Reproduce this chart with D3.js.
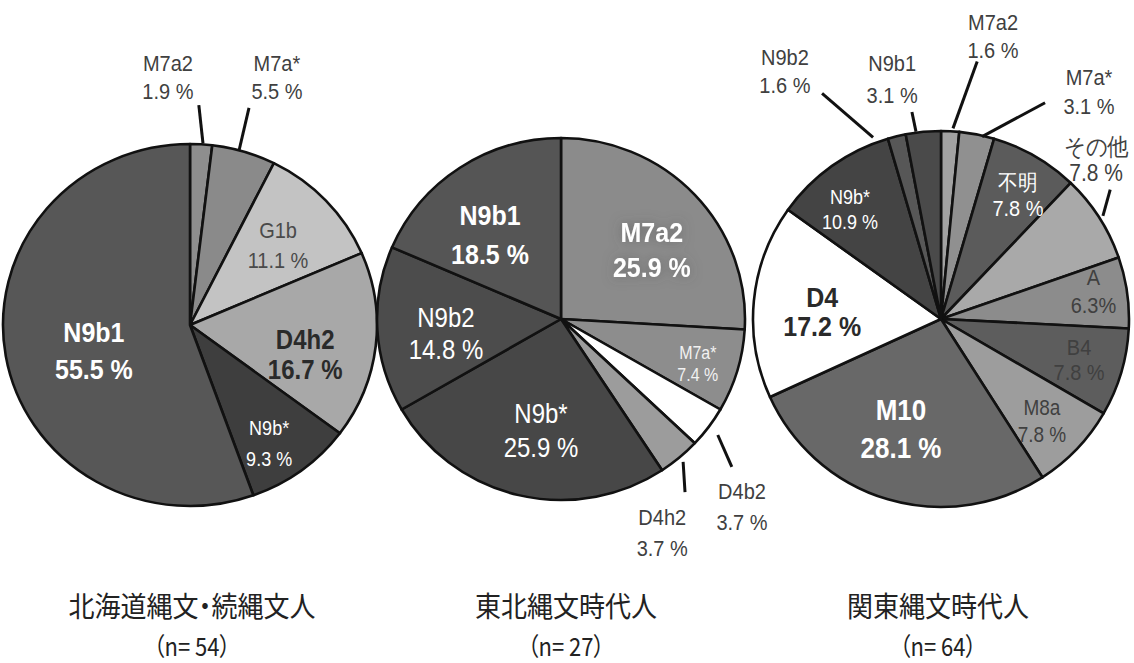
<!DOCTYPE html>
<html>
<head>
<meta charset="utf-8">
<script src="https://cdn.jsdelivr.net/npm/d3@7"></script>
<style>
  html, body { margin: 0; padding: 0; background: #fff; }
  svg { display: block; }
  text { font-family: "Liberation Sans", Arial, sans-serif; }
  .title { font-family: "Noto Sans CJK JP", "Noto Sans CJK SC", sans-serif; font-feature-settings: "palt"; }
</style>
</head>
<body>
<svg id="chart" width="1134" height="663"></svg>
<script>
// Haplogroup shares (%) for each group, listed clockwise from 12 o'clock
const hokkaidoLabels = ["M7a2", "M7a*", "G1b", "D4h2", "N9b*", "N9b1"];
const hokkaidoValues = [1.9, 5.5, 11.1, 16.7, 9.3, 55.5];

const tohokuLabels = ["M7a2", "M7a*", "D4b2", "D4h2", "N9b*", "N9b2", "N9b1"];
const tohokuValues = [25.9, 7.4, 3.7, 3.7, 25.9, 14.8, 18.5];

const kantoLabels = ["M7a2", "M7a*", "不明", "その他", "A", "B4", "M8a", "M10", "D4", "N9b*", "N9b2", "N9b1"];
const kantoValues = [1.6, 3.1, 7.8, 7.8, 6.3, 7.8, 7.8, 28.1, 17.2, 10.9, 1.6, 3.1];

const groupTitles = ["北海道縄文・続縄文人", "東北縄文時代人", "関東縄文時代人"];
const sampleSizes = [54, 27, 64];

// ---- drawing styles and label placement (angles in degrees from 12 o'clock) ----
const W = "#fff", DK = "#2a2a2a", MID = "#404040";
const pieStyles = [
  {
    cx: 190, cy: 325, rx: 187, ry: 181, titleX: 192,
    colors: ["#8e8e8e", "#8a8a8a", "#c3c3c3", "#a8a8a8", "#3e3e3e", "#575757"],
    labels: [
      { a: -5.1, r: 249, size: 20, fill: MID, gap: 28, leader: [4.1, 182, 2.3, 220] },
      { a: 19.3, r: 263, size: 20, fill: MID, gap: 28, leader: [15.7, 181, 15.2, 225] },
      { a: 47.7, r: 119, size: 20, fill: "#4a4a4a", gap: 30 },
      { a: 104.6, r: 119, size: 24, bold: true, fill: DK, gap: 30 },
      { a: 146.4, r: 143, size: 18, fill: W, gap: 31 },
      { a: 255, r: 99.5, size: 25, bold: true, fill: W, gap: 37 }
    ]
  },
  {
    cx: 561, cy: 319, rx: 184, ry: 181, titleX: 566,
    colors: ["#8b8b8b", "#8d8d8d", "#ffffff", "#9c9c9c", "#474747", "#4c4c4c", "#555555"],
    labels: [
      { a: 52.8, r: 114, size: 25, bold: true, fill: W, gap: 35, halo: true },
      { a: 108.2, r: 144, size: 16, fill: "#f2f2f2", gap: 22 },
      { a: 136.1, r: 261, size: 20, fill: MID, gap: 31, leader: [126.5, 195, 130.9, 226] },
      { a: 154.6, r: 236, size: 20, fill: MID, gap: 31, leader: [139.5, 188, 144.4, 213] },
      { a: 190.2, r: 113, size: 24, fill: W, gap: 34 },
      { a: 262.6, r: 116, size: 24, fill: W, gap: 32 },
      { a: 319.8, r: 110, size: 25, bold: true, fill: W, gap: 39 }
    ]
  },
  {
    cx: 941, cy: 319, rx: 188, ry: 188, titleX: 938,
    colors: ["#a2a2a2", "#909090", "#5b5b5b", "#a9a9a9", "#8c8c8c", "#5d5d5d",
             "#9d9d9d", "#686868", "#ffffff", "#444444", "#575757", "#4a4a4a"],
    labels: [
      { a: 10.4, r: 288, size: 20, fill: MID, gap: 28, leader: [3.6, 191, 8.0, 260] },
      { a: 33.1, r: 271, size: 20, fill: MID, gap: 29, leader: [12.7, 187, 25.7, 240] },
      { a: 31.8, r: 146, size: 20, fill: W, gap: 26 },
      { a: 44.3, r: 222, size: 21, fill: MID, gap: 26, leader: [57.5, 192, 52.6, 213] },
      { a: 79.6, r: 155, size: 20, fill: MID, gap: 28, tight: true },
      { a: 106.5, r: 144, size: 20, fill: MID, gap: 25 },
      { a: 135.3, r: 143.5, size: 19, fill: MID, gap: 27 },
      { a: 200, r: 117, size: 26, bold: true, fill: W, gap: 38 },
      { a: 273.4, r: 119, size: 25, bold: true, fill: DK, gap: 29 },
      { a: 320.1, r: 142, size: 18, fill: W, gap: 25 },
      { a: 327.8, r: 293, size: 20, fill: MID, gap: 28, leader: [339.5, 194, 332.2, 255] },
      { a: 348.5, r: 245, size: 20, fill: MID, gap: 32, leader: [352.4, 189, 352.0, 209] }
    ]
  }
];

const groups = [
  { names: hokkaidoLabels, values: hokkaidoValues },
  { names: tohokuLabels, values: tohokuValues },
  { names: kantoLabels, values: kantoValues }
];

const svg = d3.select("#chart");
const STRETCH = 1.12; // label glyphs are drawn slightly tall and narrow

// soft dark halo behind a label
const defs = svg.append("defs");
const halo = defs.append("filter").attr("id", "halo")
  .attr("x", "-60%").attr("y", "-80%").attr("width", "220%").attr("height", "260%");
halo.append("feGaussianBlur").attr("in", "SourceAlpha").attr("stdDeviation", 6).attr("result", "b");
halo.append("feFlood").attr("flood-color", "#505050").attr("flood-opacity", 0.55);
halo.append("feComposite").attr("in2", "b").attr("operator", "in").attr("result", "s");
const hm = halo.append("feMerge");
hm.append("feMergeNode").attr("in", "s");
hm.append("feMergeNode").attr("in", "SourceGraphic");

const rad = d => d * Math.PI / 180;
const polar = (st, a, r) => [st.cx + r * Math.sin(rad(a)), st.cy - r * Math.cos(rad(a))];

const pie = d3.pie().sort(null).value(d => d.value);

groups.forEach((grp, gi) => {
  const st = pieStyles[gi];
  const data = grp.names.map((name, i) => ({ name, value: grp.values[i], i }));
  const arcs = pie(data);
  const arc = d3.arc().innerRadius(0).outerRadius(st.rx);

  // slices (ellipse via vertical scale)
  const g = svg.append("g")
    .attr("transform", `translate(${st.cx},${st.cy}) scale(1,${st.ry / st.rx})`);

  g.selectAll("path.slice")
    .data(arcs)
    .join("path")
    .attr("class", "slice")
    .attr("d", arc)
    .attr("fill", d => st.colors[d.index])
    .attr("stroke", "#111")
    .attr("stroke-width", 2.6)
    .attr("stroke-linejoin", "round");

  // leader lines for small outer slices
  const lab = svg.append("g");
  arcs.forEach(d => {
    const L = st.labels[d.index];
    if (L.leader) {
      const [a1, r1, a2, r2] = L.leader;
      const p1 = polar(st, a1, r1), p2 = polar(st, a2, r2);
      lab.append("line")
        .attr("x1", p1[0]).attr("y1", p1[1])
        .attr("x2", p2[0]).attr("y2", p2[1])
        .attr("stroke", "#111").attr("stroke-width", 3);
    }
  });

  // slice labels: name on one line, share on the next
  arcs.forEach(d => {
    const L = st.labels[d.index];
    const [x, y] = polar(st, L.a, L.r);
    const pct = d.data.value.toFixed(1) + (L.tight ? "%" : " %");
    const lines = [d.data.name, pct];
    const tg = lab.append("g");
    if (L.halo) tg.attr("filter", "url(#halo)");
    lines.forEach((t, k) => {
      const yy = y + (k - 0.5) * L.gap;
      tg.append("text")
        .attr("transform", `translate(${x},${yy}) scale(1,${STRETCH})`)
        .attr("text-anchor", "middle")
        .attr("dominant-baseline", "central")
        .attr("font-size", L.size)
        .attr("font-weight", L.bold ? "bold" : "normal")
        .attr("fill", L.fill)
        .text(t);
    });
  });

  // group title and sample size
  svg.append("text")
    .attr("class", "title")
    .attr("transform", `translate(${st.titleX},605) scale(1,1.08)`)
    .attr("text-anchor", "middle")
    .attr("dominant-baseline", "central")
    .attr("font-size", 26)
    .attr("fill", "#222")
    .text(groupTitles[gi]);

  svg.append("text")
    .attr("transform", `translate(${st.titleX},645) scale(1,1.15)`)
    .attr("text-anchor", "middle")
    .attr("dominant-baseline", "central")
    .attr("font-size", 22)
    .attr("fill", "#222")
    .attr("class", "title")
    .text(`（n= ${sampleSizes[gi]}）`);
});
</script>
</body>
</html>
